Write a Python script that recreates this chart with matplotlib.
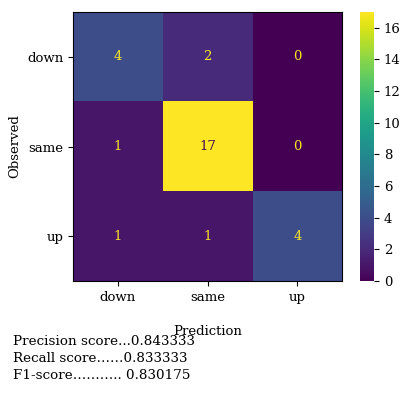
import numpy as np
import matplotlib
matplotlib.use("Agg")
import matplotlib.pyplot as plt

plt.rcParams['font.family'] = ['DejaVu Serif']

labels = ['down', 'same', 'up']
cm = np.array([[4, 2, 0],
               [1, 17, 0],
               [1, 1, 4]])
scores = [('Precision score...', 0.843333),
          ('Recall score\u2026\u2026', 0.833333),
          ('F1-score\u2026\u2026\u2026.. ', 0.830175)]

fig = plt.figure(figsize=(4.04, 4.11), dpi=100)
ax = fig.add_axes([0.181, 0.316, 0.666, 0.655])
cax = fig.add_axes([0.891, 0.316, 0.035, 0.655])

im = ax.imshow(cm, cmap='viridis', vmin=0, vmax=cm.max(), aspect='auto')
for i in range(cm.shape[0]):
    for j in range(cm.shape[1]):
        color = '#440154' if cm[i, j] > cm.max() / 2 else '#fde725'
        ax.text(j, i, str(cm[i, j]), ha='center', va='center', color=color, fontsize=9.5)

ax.set_xticks(range(len(labels)))
ax.set_xticklabels(labels, fontsize=9.5)
ax.set_yticks(range(len(labels)))
ax.set_yticklabels(labels, fontsize=9.5)
ax.set_xlabel('Prediction', fontsize=9.5, labelpad=15)
ax.set_ylabel('Observed', fontsize=9.5)

cb = fig.colorbar(im, cax=cax)
cb.set_ticks(range(0, 17, 2))
cb.ax.tick_params(labelsize=9.5)
cb.outline.set_visible(False)

for k, (name, val) in enumerate(scores):
    fig.text(0.032, 0.168 - k * 0.041, f'{name}{val:.6f}', fontsize=9.7, va='center')

fig.savefig('out.png', dpi=100)
